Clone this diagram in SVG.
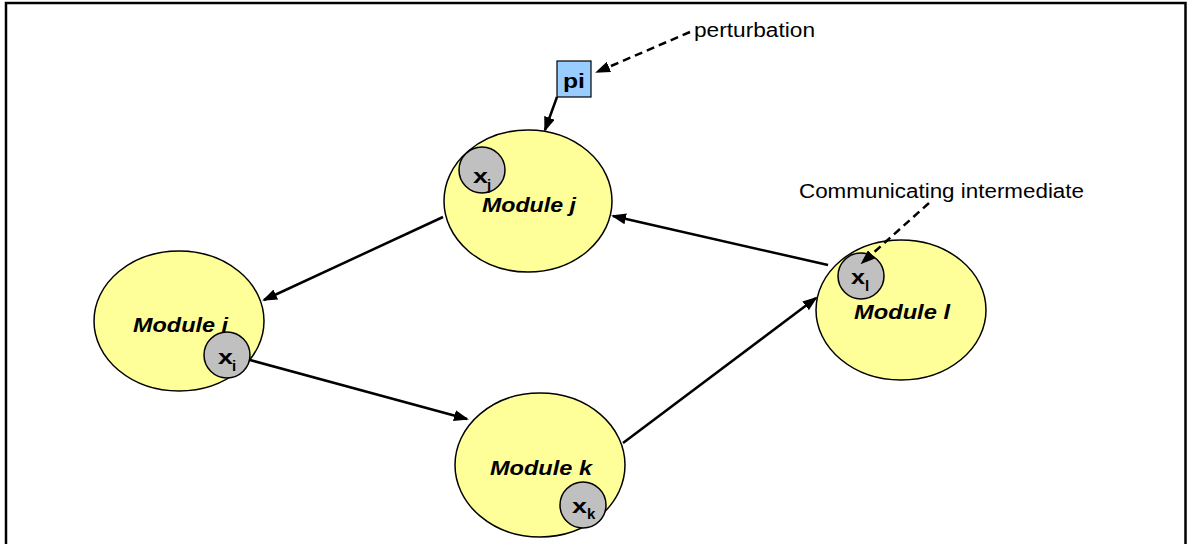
<svg xmlns="http://www.w3.org/2000/svg" width="1189" height="544" viewBox="0 0 1189 544">
  <style>
    .module { fill: #ffff99; stroke: #000; stroke-width: 1.5; }
    .species { fill: #c0c0c0; stroke: #000; stroke-width: 1.5; }
    .modlabel { font-family: "Liberation Sans", Arial, sans-serif; font-size: 20.5px; font-weight: bold; font-style: italic; fill: #000; }
    .var { font-family: "Liberation Sans", Arial, sans-serif; font-size: 21px; font-weight: bold; fill: #000; }
    .sub { font-family: "Liberation Sans", Arial, sans-serif; font-size: 15px; font-weight: bold; fill: #000; }
    .note { font-family: "Liberation Sans", Arial, sans-serif; font-size: 20px; fill: #000; }
    .edge { stroke: #000; stroke-width: 2.5; fill: none; marker-end: url(#head); }
    .dashed { stroke-dasharray: 8 5; }
  </style>
  <defs>
    <marker id="head" markerUnits="userSpaceOnUse" markerWidth="15" markerHeight="11" refX="13" refY="5.5" orient="auto">
      <path d="M0,0 L15,5.5 L0,11 z" fill="#000"/>
    </marker>
  </defs>

  <rect width="1189" height="544" fill="#fff"/>
  <!-- frame -->
  <path d="M6,548 V3 H1185.5 V548" fill="none" stroke="#000" stroke-width="2.5"/>

  <g id="module-j">
    <ellipse class="module" cx="528" cy="201" rx="84" ry="71"/>
    <text class="modlabel" x="482" y="212" textLength="94" lengthAdjust="spacingAndGlyphs">Module j</text>
    <circle class="species" cx="482" cy="170" r="23"/>
    <text class="var" x="473" y="183" textLength="15" lengthAdjust="spacingAndGlyphs">x</text>
    <text class="sub" x="487" y="190">j</text>
  </g>

  <g id="module-i">
    <ellipse class="module" cx="179" cy="321" rx="85" ry="70"/>
    <text class="modlabel" x="133" y="332" textLength="95" lengthAdjust="spacingAndGlyphs">Module i</text>
    <circle class="species" cx="227" cy="355" r="23"/>
    <text class="var" x="218" y="364" textLength="15" lengthAdjust="spacingAndGlyphs">x</text>
    <text class="sub" x="232" y="371">i</text>
  </g>

  <g id="module-k">
    <ellipse class="module" cx="540" cy="465" rx="85" ry="72"/>
    <text class="modlabel" x="490" y="475" textLength="102" lengthAdjust="spacingAndGlyphs">Module k</text>
    <circle class="species" cx="583" cy="505" r="23"/>
    <text class="var" x="572" y="513" textLength="15" lengthAdjust="spacingAndGlyphs">x</text>
    <text class="sub" x="587" y="519">k</text>
  </g>

  <g id="module-l">
    <ellipse class="module" cx="901" cy="310" rx="85" ry="70"/>
    <text class="modlabel" x="854" y="319" textLength="96" lengthAdjust="spacingAndGlyphs">Module l</text>
    <circle class="species" cx="861" cy="276" r="23"/>
    <text class="var" x="851" y="284" textLength="14" lengthAdjust="spacingAndGlyphs">x</text>
    <text class="sub" x="865" y="291">l</text>
  </g>

  <g id="perturbation-input">
    <rect x="557" y="61" width="34" height="36" fill="#99ccff" stroke="#000" stroke-width="1.2"/>
    <text class="var" x="563" y="88" textLength="22" lengthAdjust="spacingAndGlyphs">pi</text>
  </g>

  <g id="annotations">
    <text class="note" x="694" y="37" textLength="121" lengthAdjust="spacingAndGlyphs">perturbation</text>
    <text class="note" x="799" y="198" textLength="285" lengthAdjust="spacingAndGlyphs">Communicating intermediate</text>
  </g>

  <g id="connectors">
    <line class="edge" x1="557" y1="97" x2="545" y2="130"/>
    <line class="edge dashed" x1="690" y1="32" x2="597" y2="72"/>
    <line class="edge dashed" x1="929" y1="203" x2="862" y2="263"/>
    <line class="edge" x1="828" y1="265" x2="613" y2="216"/>
    <line class="edge" x1="443" y1="217" x2="264" y2="300"/>
    <line class="edge" x1="250" y1="360" x2="467" y2="419"/>
    <line class="edge" x1="623" y1="443" x2="816" y2="298"/>
  </g>
</svg>
